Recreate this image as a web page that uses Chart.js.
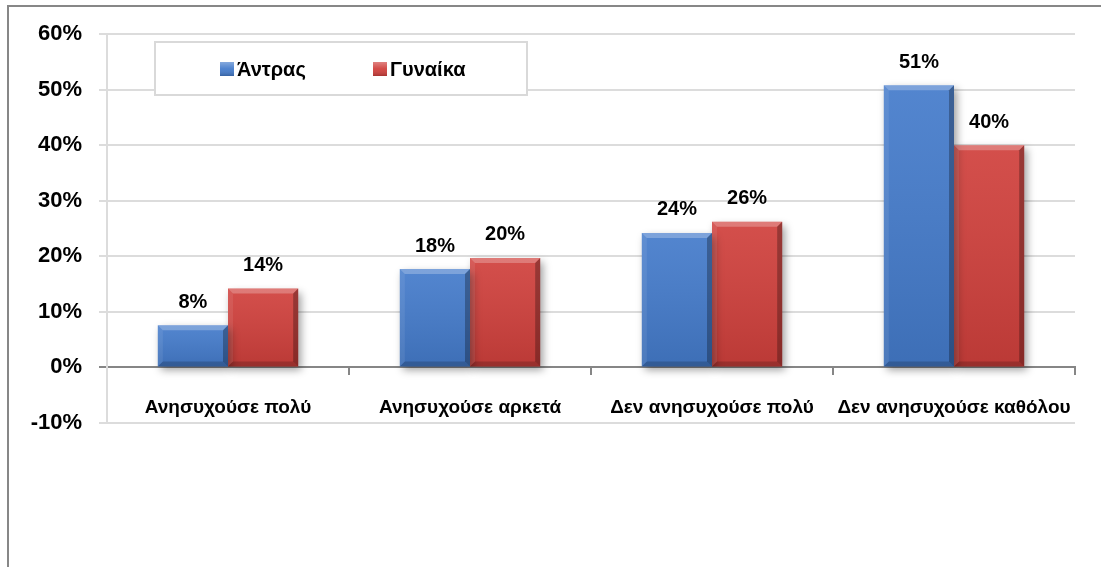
<!DOCTYPE html>
<html><head><meta charset="utf-8">
<script src="https://cdn.jsdelivr.net/npm/chart.js@4.4.1/dist/chart.umd.min.js"></script>
<style>
html,body{margin:0;padding:0;background:#fff;overflow:hidden;}
#wrap{position:relative;width:1101px;height:567px;}
#frame{position:absolute;left:7px;top:5px;width:1200px;height:700px;border-top:2px solid #878787;border-left:2px solid #878787;pointer-events:none;}
canvas{position:absolute;left:0;top:0;}
</style></head><body>
<div id="wrap"><canvas id="c" width="1101" height="567"></canvas><div id="frame"></div></div>
<script>
const categories = ['Ανησυχούσε πολύ', 'Ανησυχούσε αρκετά', 'Δεν ανησυχούσε πολύ', 'Δεν ανησυχούσε καθόλου'];
const seriesNames = ['Άντρας', 'Γυναίκα'];
const menValues = [7.6, 17.7, 24.2, 50.8];
const womenValues = [14.2, 19.7, 26.2, 40.0];
const yTickValues = [-10, 0, 10, 20, 30, 40, 50, 60];

const FONT = '"Liberation Sans", Arial, sans-serif';
const BLUE = '#447bcb';
const RED = '#d0403c';

const barStylePlugin = {
  id: 'barStyle',
  beforeDatasetsDraw(chart) {
    const ctx = chart.ctx;
    ctx.save();
    ctx.shadowColor = 'rgba(0,0,0,0.38)';
    ctx.shadowBlur = 8;
    ctx.shadowOffsetX = 3;
    ctx.shadowOffsetY = 4;
  },
  afterDatasetsDraw(chart) {
    const ctx = chart.ctx;
    ctx.restore();
    ctx.save();
    chart.data.datasets.forEach((ds, di) => {
      const meta = chart.getDatasetMeta(di);
      meta.data.forEach((bar, i) => {
        const w = bar.width;
        const l = bar.x - w / 2, r = bar.x + w / 2, t = bar.y, b = bar.base;
        const bv = 5;
        const g = ctx.createLinearGradient(0, t, 0, b);
        g.addColorStop(0, 'rgba(255,255,255,0.08)');
        g.addColorStop(1, 'rgba(0,0,0,0.10)');
        ctx.fillStyle = g;
        ctx.fillRect(l, t, w, b - t);
        ctx.fillStyle = 'rgba(255,255,255,0.25)';
        ctx.beginPath(); ctx.moveTo(l, t); ctx.lineTo(r, t); ctx.lineTo(r - bv, t + bv); ctx.lineTo(l + bv, t + bv); ctx.closePath(); ctx.fill();
        ctx.fillStyle = 'rgba(255,255,255,0.08)';
        ctx.beginPath(); ctx.moveTo(l, t); ctx.lineTo(l + bv, t + bv); ctx.lineTo(l + bv, b - bv); ctx.lineTo(l, b); ctx.closePath(); ctx.fill();
        ctx.fillStyle = 'rgba(0,0,0,0.28)';
        ctx.beginPath(); ctx.moveTo(r, t); ctx.lineTo(r, b); ctx.lineTo(r - bv, b - bv); ctx.lineTo(r - bv, t + bv); ctx.closePath(); ctx.fill();
        ctx.fillStyle = 'rgba(0,0,0,0.18)';
        ctx.beginPath(); ctx.moveTo(l, b); ctx.lineTo(r, b); ctx.lineTo(r - bv, b - bv); ctx.lineTo(l + bv, b - bv); ctx.closePath(); ctx.fill();
        const v = ds.data[i];
        ctx.fillStyle = '#000';
        ctx.font = 'bold 20px ' + FONT;
        ctx.textAlign = 'center';
        ctx.textBaseline = 'middle';
        ctx.fillText(Math.round(v) + '%', bar.x, t - 23);
      });
    });
    ctx.restore();
  }
};

const legendBoxPlugin = {
  id: 'legendBox',
  afterDraw(chart) {
    const ctx = chart.ctx;
    ctx.save();
    ctx.fillStyle = '#fff';
    ctx.fillRect(155, 42, 372, 53);
    ctx.strokeStyle = '#d9d9d9';
    ctx.lineWidth = 2;
    ctx.strokeRect(155, 42, 372, 53);
    const items = [{x: 220}, {x: 373}];
    chart.data.datasets.forEach((ds, i) => {
      const x = items[i].x, y = 62, s = 14;
      ctx.fillStyle = ds.backgroundColor;
      ctx.fillRect(x, y, s, s);
      const g = ctx.createLinearGradient(0, y, 0, y + s);
      g.addColorStop(0, 'rgba(255,255,255,0.35)');
      g.addColorStop(0.5, 'rgba(255,255,255,0.05)');
      g.addColorStop(1, 'rgba(0,0,0,0.2)');
      ctx.fillStyle = g;
      ctx.fillRect(x, y, s, s);
      ctx.fillStyle = '#000';
      ctx.font = 'bold 20px ' + FONT;
      ctx.textAlign = 'left';
      ctx.textBaseline = 'middle';
      ctx.fillText(ds.label, x + 17, y + s / 2 + 1);
    });
    ctx.restore();
  }
};

new Chart(document.getElementById('c'), {
  type: 'bar',
  data: {
    labels: categories,
    datasets: [
      {label: seriesNames[0], data: menValues, backgroundColor: BLUE, borderWidth: 0},
      {label: seriesNames[1], data: womenValues, backgroundColor: RED, borderWidth: 0}
    ]
  },
  options: {
    responsive: false,
    animation: false,
    devicePixelRatio: 1,
    layout: {padding: {left: 0, top: 34, right: 26, bottom: 144}},
    datasets: {bar: {barPercentage: 1.0, categoryPercentage: 0.58}},
    plugins: {legend: {display: false}, tooltip: {enabled: false}},
    scales: {
      x: {
        position: {y: 0},
        grid: {display: true, drawOnChartArea: false, drawTicks: true, tickLength: 7, color: '#868686', lineWidth: 2, offset: true},
        border: {display: true, color: '#868686', width: 2},
        ticks: {color: '#000', font: {family: FONT, size: 19, weight: 'bold'}, padding: 22, maxRotation: 0, autoSkip: false},
        afterFit(s) { s.paddingLeft = 0; s.paddingRight = 0; }
      },
      y: {
        min: -10, max: 60,
        afterBuildTicks(s) { s.ticks = yTickValues.map(v => ({value: v})); },
        ticks: {callback: v => v + '%', color: '#000', font: {family: FONT, size: 22, weight: 'bold'}, padding: 17},
        grid: {color: c => (c.tick && c.tick.value === 0) ? '#868686' : '#dcdcdc', lineWidth: 2, tickLength: 8},
        border: {display: true, color: '#dcdcdc', width: 2},
        afterFit(s) { s.width = 107; s.paddingTop = 0; s.paddingBottom = 0; }
      }
    }
  },
  plugins: [barStylePlugin, legendBoxPlugin]
});
</script>
</body></html>
